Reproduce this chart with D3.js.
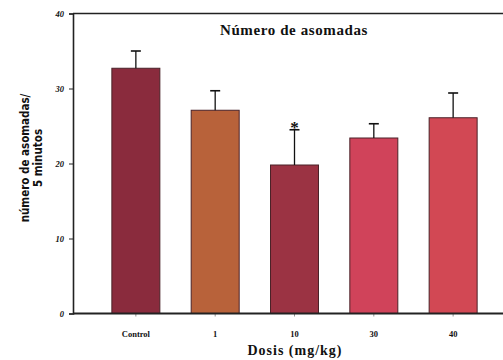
<!DOCTYPE html>
<html>
<head>
<meta charset="utf-8">
<script src="https://cdn.jsdelivr.net/npm/d3@7"></script>
<style>
  html, body { margin: 0; padding: 0; background: #fff; overflow: hidden; }
  svg { display: block; }
</style>
</head>
<body>
<svg id="chart" width="503" height="360"></svg>
<script>
// Doses and mean counts (± SE) of head-pokes in 5 minutes
const categories = ["Control", "1", "10", "30", "40"];
const means = [32.7, 27.1, 19.8, 23.4, 26.1];
const errors = [2.3, 2.6, 4.7, 1.9, 3.3];
const significant = [false, false, true, false, false];
const barColors = ["#8a2b3d", "#b8623a", "#9b3343", "#d0435a", "#d24854"];
const yTicks = [0, 10, 20, 30, 40];

const svg = d3.select("#chart");
// the plot frame runs past the right edge of the figure
const plotLeft = 73, plotRight = 530, plotTop = 13.5, plotBottom = 313.5;

const x = d3.scaleBand().domain(categories).range([plotLeft, 516])
  .paddingInner(0.395).paddingOuter(0.49);
const y = d3.scaleLinear().domain([0, 40]).range([plotBottom, plotTop]);

const serif = "'Liberation Serif', 'DejaVu Serif', serif";

// frame top line
svg.append("line").attr("x1", plotLeft).attr("x2", plotRight).attr("y1", plotTop).attr("y2", plotTop)
  .attr("stroke", "#222").attr("stroke-width", 1.6);

// bars
svg.selectAll("rect.bar").data(categories).join("rect")
  .attr("class", "bar")
  .attr("x", d => x(d))
  .attr("width", x.bandwidth())
  .attr("y", (d, i) => y(means[i]))
  .attr("height", (d, i) => y(0) - y(means[i]))
  .attr("fill", (d, i) => barColors[i])
  .attr("stroke", "#4a2228")
  .attr("stroke-width", 1);

// error bars
const eb = svg.selectAll("g.err").data(categories).join("g").attr("class", "err");
eb.append("line")
  .attr("x1", d => x(d) + x.bandwidth() / 2).attr("x2", d => x(d) + x.bandwidth() / 2)
  .attr("y1", (d, i) => y(means[i])).attr("y2", (d, i) => y(means[i] + errors[i]))
  .attr("stroke", "#111").attr("stroke-width", 1.3);
eb.append("line")
  .attr("x1", d => x(d) + x.bandwidth() / 2 - 5).attr("x2", d => x(d) + x.bandwidth() / 2 + 5)
  .attr("y1", (d, i) => y(means[i] + errors[i])).attr("y2", (d, i) => y(means[i] + errors[i]))
  .attr("stroke", "#111").attr("stroke-width", 1.6);

// significance marks
categories.forEach((d, i) => {
  if (!significant[i]) return;
  svg.append("text")
    .attr("x", x(d) + x.bandwidth() / 2)
    .attr("y", y(means[i] + errors[i]) + 3)
    .attr("text-anchor", "middle")
    .attr("font-family", serif).attr("font-weight", "bold").attr("font-size", 17)
    .attr("fill", "#111")
    .text("*");
});

// y axis
const yAxis = svg.append("g").attr("transform", `translate(${plotLeft},0)`)
  .call(d3.axisLeft(y).tickValues(yTicks).tickSize(4).tickPadding(5));
yAxis.select(".domain").attr("stroke", "#222").attr("stroke-width", 1.6);
yAxis.selectAll(".tick line").attr("stroke", "#222").attr("stroke-width", 1);
yAxis.selectAll(".tick text")
  .attr("font-family", serif).attr("font-weight", "bold").attr("font-style", "italic")
  .attr("font-size", 8.5).attr("fill", "#111");

// x axis
const xAxis = svg.append("g").attr("transform", `translate(0,${plotBottom})`)
  .call(d3.axisBottom(x).tickSize(3).tickPadding(14));
xAxis.select(".domain").remove();
svg.append("line").attr("x1", plotLeft).attr("x2", plotRight).attr("y1", plotBottom).attr("y2", plotBottom)
  .attr("stroke", "#222").attr("stroke-width", 1.8);
xAxis.selectAll(".tick line").attr("stroke", "#777").attr("stroke-width", 0.8);
xAxis.selectAll(".tick text")
  .attr("font-family", serif).attr("font-weight", "bold")
  .attr("font-size", 8.5).attr("fill", "#111");

// titles
svg.append("text").attr("x", 294).attr("y", 35).attr("text-anchor", "middle")
  .attr("font-family", serif).attr("font-weight", "bold").attr("font-size", 15)
  .attr("letter-spacing", 0.6)
  .attr("fill", "#111").text("Número de asomadas");

svg.append("text").attr("x", 295).attr("y", 355).attr("text-anchor", "middle")
  .attr("font-family", serif).attr("font-weight", "bold").attr("font-size", 14)
  .attr("letter-spacing", 1)
  .attr("fill", "#111").text("Dosis (mg/kg)");

const yTitle = svg.append("text")
  .attr("transform", "translate(29,158) rotate(-90)")
  .attr("text-anchor", "middle")
  .attr("font-family", "'DejaVu Sans Condensed', 'DejaVu Sans', sans-serif")
  .attr("font-weight", "bold").attr("font-size", 11.5).attr("fill", "#111");
yTitle.append("tspan").attr("x", 0).attr("dy", 0).text("número de asomadas/");
yTitle.append("tspan").attr("x", 0).attr("dy", 13).text("5 minutos");
</script>
</body>
</html>
